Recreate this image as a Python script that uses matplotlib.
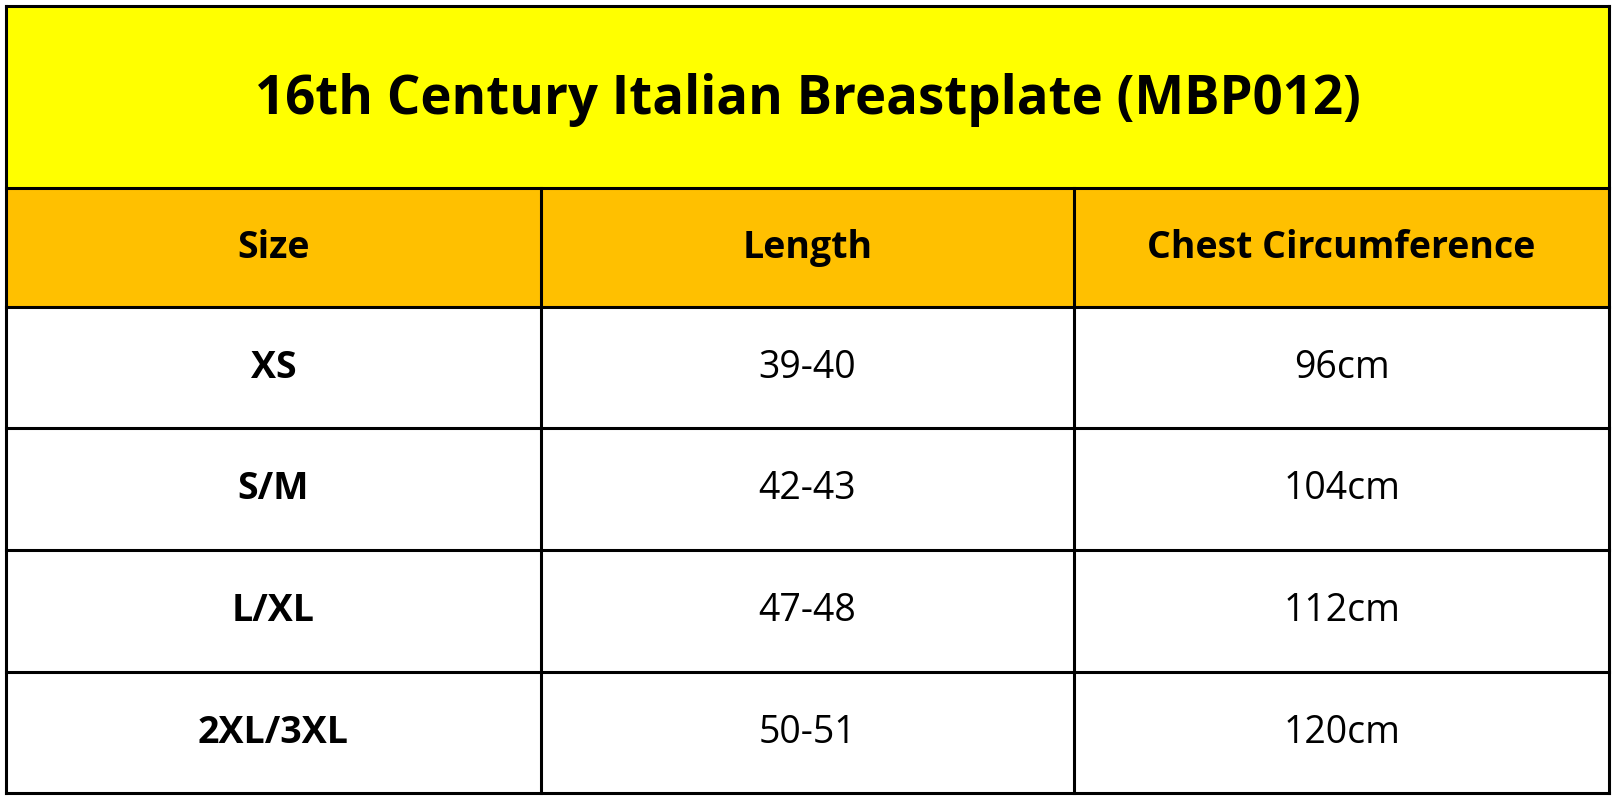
import matplotlib
matplotlib.use("Agg")
import matplotlib.pyplot as plt
from matplotlib.patches import Rectangle

title = "16th Century Italian Breastplate (MBP012)"
headers = ["Size", "Length", "Chest Circumference"]
sizes = ["XS", "S/M", "L/XL", "2XL/3XL"]
lengths = ["39-40", "42-43", "47-48", "50-51"]
chest = ["96cm", "104cm", "112cm", "120cm"]

W, H = 1568, 776
fig = plt.figure(figsize=(16.15, 7.99), dpi=100)
ax = fig.add_axes([0, 0, 1, 1])
ax.set_xlim(0, W); ax.set_ylim(H, 0); ax.axis("off")
fam = ["Open Sans", "DejaVu Sans"]

L, R = 6, 1562
rows = [6, 183, 298, 416, 534, 653, 770]
cols = [L, 525, 1043, R]

ax.add_patch(Rectangle((L, rows[0]), R - L, rows[1] - rows[0], fc="#FFFF00", ec="none"))
ax.add_patch(Rectangle((L, rows[1]), R - L, rows[2] - rows[1], fc="#FFC000", ec="none"))
ax.text((L + R) / 2, (rows[0] + rows[1]) / 2 + 3, title, ha="center", va="center",
        fontsize=38, fontweight="bold", family=fam)
for j, h in enumerate(headers):
    ax.text((cols[j] + cols[j + 1]) / 2, (rows[1] + rows[2]) / 2, h, ha="center",
            va="center", fontsize=27, fontweight="bold", family=fam)
for i in range(len(sizes)):
    yc = (rows[i + 2] + rows[i + 3]) / 2
    vals = [sizes[i], lengths[i], chest[i]]
    for j, v in enumerate(vals):
        ax.text((cols[j] + cols[j + 1]) / 2, yc, v, ha="center", va="center",
                fontsize=27, fontweight="bold" if j == 0 else "normal", family=fam)

lw = 2.2
for y in rows:
    ax.plot([L, R], [y, y], color="black", lw=lw)
for x in [L, R]:
    ax.plot([x, x], [rows[0], rows[-1]], color="black", lw=lw)
for x in cols[1:-1]:
    ax.plot([x, x], [rows[1], rows[-1]], color="black", lw=lw)

fig.savefig("out.png", dpi=100, facecolor="white")
